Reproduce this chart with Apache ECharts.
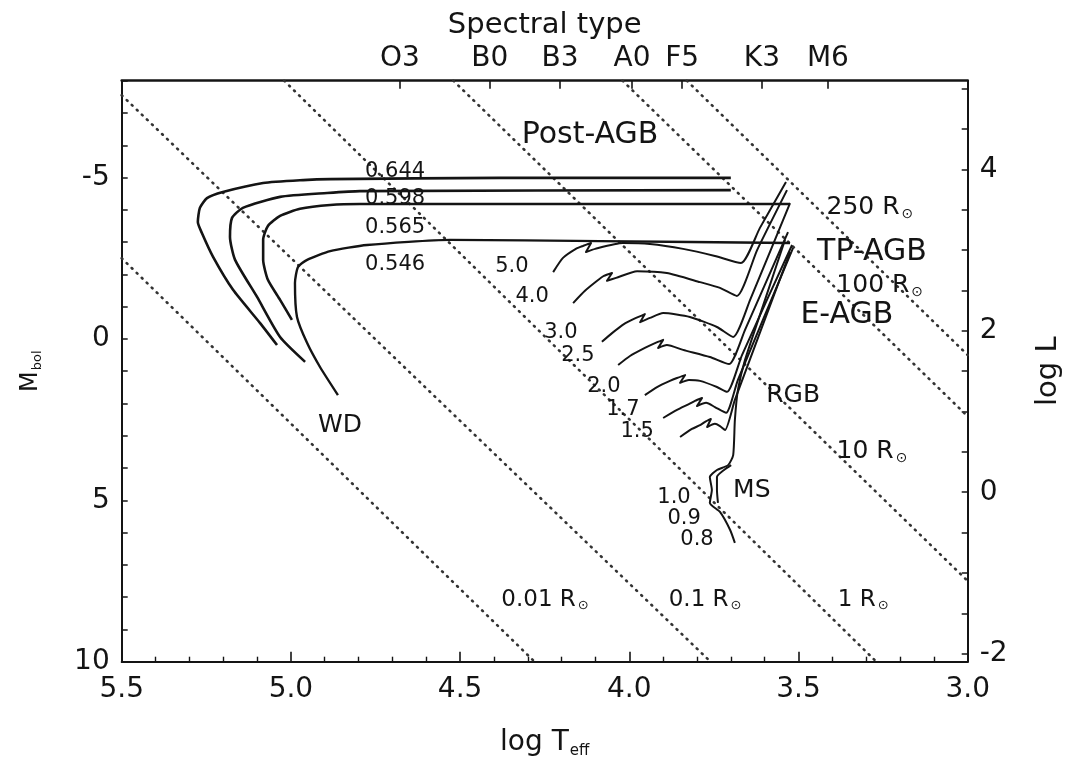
<!DOCTYPE html>
<html>
<head>
<meta charset="utf-8">
<script src="https://cdn.jsdelivr.net/npm/echarts@6/dist/echarts.min.js"></script>
<style>
  html, body { margin: 0; padding: 0; background: #ffffff; }
  #chart { width: 1073px; height: 760px; }
</style>
</head>
<body>
<div id="chart"></div>
<script>
// ---- Axis ticks -----------------------------------------------------------
const spectralTypes = ['O3', 'B0', 'B3', 'A0', 'F5', 'K3', 'M6'];
const spectralLogT = [4.678, 4.412, 4.205, 3.992, 3.844, 3.608, 3.413];
const mbolTickLabels = [-5, 0, 5, 10];
const mbolTicks = [-8, -7, -6, -5, -4, -3, -2, -1, 0, 1, 2, 3, 4, 5, 6, 7, 8, 9, 10];
const logLTickLabels = [-2, 0, 2, 4];
const logLTicks = [-2, -1.5, -1, -0.5, 0, 0.5, 1, 1.5, 2, 2.5, 3, 3.5, 4, 4.5, 5];

// ---- Lines of constant radius: [log Teff, Mbol] end points ------------------
const radius001 = [[5.50, -2.50], [4.28, 10.0]];
const radius01 = [[5.50, -7.55], [3.76, 10.0]];
const radius1 = [[5.02, -8.0], [3.27, 10.0]];
const radius10 = [[4.52, -8.0], [3.00, 7.5]];
const radius100 = [[4.02, -8.0], [3.00, 2.4]];
const radius250 = [[3.83, -8.0], [3.00, 0.5]];

// ---- Post-AGB tracks (remnant mass in Msun) -------------------------------
const track0644 = [[3.700,-4.99],[4.382,-4.99],[4.884,-4.95],[4.964,-4.92],[5.082,-4.83],[5.201,-4.55],[5.248,-4.36],[5.269,-4.06],[5.275,-3.62],[5.263,-3.28],[5.230,-2.54],[5.171,-1.52],[5.091,-0.49],[5.041,0.19]];
const track0598 = [[3.700,-4.61],[4.796,-4.58],[4.893,-4.52],[5.032,-4.40],[5.142,-4.06],[5.174,-3.75],[5.180,-3.16],[5.165,-2.45],[5.100,-1.30],[5.032,-0.06],[4.958,0.71]];
const track0565 = [[3.525,-4.18],[4.796,-4.18],[4.884,-4.15],[4.973,-4.03],[5.032,-3.81],[5.068,-3.50],[5.082,-3.07],[5.082,-2.45],[5.068,-1.83],[5.032,-1.21],[4.997,-0.59]];
const track0546 = [[3.525,-2.97],[4.087,-3.03],[4.530,-3.07],[4.775,-2.91],[4.884,-2.72],[4.952,-2.45],[4.979,-2.23],[4.988,-1.73],[4.982,-0.68],[4.952,0.13],[4.914,0.87],[4.861,1.74]];

// ---- Intermediate-mass tracks (initial mass in Msun) -----------------------
const track50 = [[4.225,-2.07],[4.196,-2.51],[4.158,-2.79],[4.137,-2.88],[4.113,-2.97],[4.128,-2.69],[4.101,-2.79],[4.019,-2.97],[3.939,-2.94],[3.841,-2.79],[3.747,-2.57],[3.670,-2.35],[3.614,-3.44],[3.537,-4.86]];
const track40 = [[4.166,-1.11],[4.131,-1.49],[4.095,-1.80],[4.075,-1.95],[4.051,-2.04],[4.066,-1.80],[4.039,-1.89],[3.977,-2.10],[3.889,-2.04],[3.791,-1.76],[3.732,-1.58],[3.682,-1.33],[3.622,-2.76],[3.534,-4.61]];
const track30 = [[4.081,0.09],[4.051,-0.18],[4.016,-0.46],[3.980,-0.65],[3.954,-0.77],[3.968,-0.52],[3.939,-0.65],[3.900,-0.80],[3.821,-0.68],[3.741,-0.37],[3.693,-0.06],[3.643,-1.21],[3.525,-4.21]];
const track25 = [[4.033,0.81],[3.998,0.53],[3.954,0.28],[3.924,0.13],[3.900,0.03],[3.915,0.28],[3.889,0.19],[3.841,0.34],[3.762,0.56],[3.705,0.78],[3.658,-0.28],[3.531,-3.31]];
const track20 = [[3.954,1.74],[3.918,1.49],[3.880,1.30],[3.859,1.21],[3.835,1.12],[3.850,1.36],[3.824,1.27],[3.791,1.30],[3.741,1.49],[3.711,1.64],[3.667,0.50],[3.519,-2.91]];
const track17 = [[3.900,2.45],[3.859,2.20],[3.824,2.02],[3.806,1.92],[3.785,1.83],[3.800,2.08],[3.773,1.98],[3.747,2.11],[3.714,2.29],[3.679,1.27],[3.516,-2.82]];
const track15 = [[3.850,3.04],[3.815,2.79],[3.791,2.67],[3.776,2.57],[3.759,2.48],[3.770,2.73],[3.747,2.63],[3.732,2.70],[3.717,2.82],[3.688,1.89],[3.525,-2.69]];

// ---- Low-mass tracks: main sequence, turn-off and red giant branch ---------
const track08 = [[3.688,6.32],[3.702,5.92],[3.732,5.36],[3.762,5.08],[3.756,4.68],[3.762,4.28],[3.741,4.06],[3.708,3.91],[3.693,3.60],[3.688,2.51],[3.679,1.58],[3.658,0.65],[3.599,-1.21],[3.540,-3.07]];
const track10 = [[3.738,5.08],[3.741,4.68],[3.741,4.28],[3.720,4.06],[3.699,3.91]];

// ---- Text annotations: [text, log Teff, Mbol, style] ----------------------
const notes = [
  ['Post-AGB', 4.116, -6.32, 'big'],
  ['0.644', 4.692, -5.20, 'mass'],
  ['0.598', 4.692, -4.34, 'mass'],
  ['0.565', 4.692, -3.44, 'mass'],
  ['0.546', 4.692, -2.29, 'mass'],
  ['5.0', 4.347, -2.23, 'mass'],
  ['4.0', 4.287, -1.30, 'mass'],
  ['3.0', 4.202, -0.21, 'mass'],
  ['2.5', 4.152, 0.50, 'mass'],
  ['2.0', 4.075, 1.46, 'mass'],
  ['1.7', 4.019, 2.20, 'mass'],
  ['1.5', 3.977, 2.88, 'mass'],
  ['1.0', 3.868, 4.90, 'mass'],
  ['0.9', 3.838, 5.58, 'mass'],
  ['0.8', 3.800, 6.23, 'mass'],
  ['MS', 3.638, 4.71, 'phase'],
  ['RGB', 3.516, 1.74, 'phase'],
  ['E-AGB', 3.357, -0.74, 'big'],
  ['TP-AGB', 3.283, -2.69, 'big'],
  ['WD', 4.855, 2.67, 'phase'],
  ['250 R{s|\u2299}', 3.289, -4.06, 'radius'],
  ['100 R{s|\u2299}', 3.260, -1.64, 'radius'],
  ['10 R{s|\u2299}', 3.283, 3.50, 'radius'],
  ['1 R{s|\u2299}', 3.309, 8.09, 'radiusSmall'],
  ['0.1 R{s|\u2299}', 3.776, 8.09, 'radiusSmall'],
  ['0.01 R{s|\u2299}', 4.249, 8.09, 'radiusSmall']
];

// ---- Styles ----------------------------------------------------------------
const FONT = 'DejaVu Sans';
const INK = '#141414';
const noteSizes = { big: 30, mass: 21, phase: 25, radius: 25, radiusSmall: 23 };
const M_SUN = 4.75;  // bolometric magnitude of the Sun (links Mbol and log L)
const M_TOP = -8, M_BOTTOM = 10;

const chart = echarts.init(document.getElementById('chart'), null, { renderer: 'canvas' });

const trackSeries = [
  [track0644, 2.6], [track0598, 2.6], [track0565, 2.6], [track0546, 2.4],
  [track50, 2], [track40, 2], [track30, 2], [track25, 2], [track20, 2],
  [track17, 2], [track15, 2], [track08, 2], [track10, 2]
].map(([data, w]) => ({
  type: 'line',
  data: data,
  showSymbol: false,
  symbol: 'none',
  smooth: 0.2,
  silent: true,
  z: 3,
  lineStyle: { color: INK, width: w, join: 'round' }
}));

const radiusSeries = [radius001, radius01, radius1, radius10, radius100, radius250].map(d => ({
  type: 'line',
  data: d,
  showSymbol: false,
  symbol: 'none',
  silent: true,
  z: 2,
  lineStyle: { color: '#333333', width: 2.6, type: [1, 6], cap: 'round' }
}));

const noteStyles = {};
Object.keys(noteSizes).forEach(k => {
  noteStyles[k] = {
    fontSize: noteSizes[k],
    fontFamily: FONT,
    color: INK,
    opacity: 1,
    textBorderWidth: 0,
    rich: { s: { fontSize: Math.round(noteSizes[k] * 0.55), fontFamily: FONT, color: INK, padding: [Math.round(noteSizes[k] * 0.5), 0, 0, 2] } }
  };
});

const noteSeries = {
  type: 'scatter',
  symbolSize: 0,
  silent: true,
  z: 5,
  itemStyle: { color: INK, opacity: 1 },
  data: notes.map(n => ({
    value: [n[1], n[2]],
    label: Object.assign({
      show: true, position: [0, 0], align: 'center', verticalAlign: 'middle', formatter: n[0]
    }, noteStyles[n[3]])
  }))
};

const tickFont = { fontSize: 28, fontFamily: FONT, color: INK };

chart.setOption({
  animation: false,
  backgroundColor: '#ffffff',
  grid: { left: 121.7, right: 105.3, top: 80.7, bottom: 98.3, containLabel: false, outerBoundsMode: 'none' },
  xAxis: [
    {
      type: 'value', position: 'bottom', min: 3.0, max: 5.5, interval: 0.5, inverse: true,
      axisLine: { show: true, onZero: false, lineStyle: { color: INK, width: 2 } },
      axisTick: { show: true, inside: true, length: 10, lineStyle: { color: INK, width: 1.6 } },
      minorTick: { show: true, splitNumber: 5, length: 5, lineStyle: { color: INK, width: 1.4 } },
      splitLine: { show: false },
      axisLabel: Object.assign({ margin: 14, formatter: v => v.toFixed(1) }, tickFont),
      name: '{a|log T}{b|eff}',
      nameLocation: 'middle', nameGap: 66,
      nameTextStyle: {
        rich: {
          a: { fontSize: 28, fontFamily: FONT, color: INK },
          b: { fontSize: 15, fontFamily: FONT, color: INK, padding: [16, 0, 0, 1] }
        }
      }
    },
    {
      type: 'value', position: 'top', min: 3.0, max: 5.5, inverse: true,
      axisLine: { show: true, onZero: false, lineStyle: { color: INK, width: 2.6 } },
      axisTick: { show: true, inside: true, length: 8, customValues: spectralLogT, lineStyle: { color: INK, width: 1.6 } },
      splitLine: { show: false },
      axisLabel: Object.assign({
        margin: 8,
        customValues: spectralLogT,
        formatter: v => {
          const i = spectralLogT.findIndex(t => Math.abs(t - v) < 1e-6);
          return i >= 0 ? spectralTypes[i] : '';
        }
      }, tickFont),
      name: 'Spectral type',
      nameLocation: 'middle', nameGap: 37,
      nameTextStyle: { fontSize: 29, fontFamily: FONT, color: INK }
    }
  ],
  yAxis: [
    {
      type: 'value', position: 'left', min: M_TOP, max: M_BOTTOM, inverse: true,
      axisLine: { show: true, onZero: false, lineStyle: { color: INK, width: 2 } },
      axisTick: { show: true, inside: true, length: 6, customValues: mbolTicks, lineStyle: { color: INK, width: 1.5 } },
      splitLine: { show: false },
      axisLabel: Object.assign({ margin: 12, customValues: mbolTickLabels }, tickFont),
      name: '{a|M}{b|bol}',
      nameLocation: 'middle', nameGap: 78, nameRotate: 90,
      nameTextStyle: {
        rich: {
          a: { fontSize: 24, fontFamily: FONT, color: INK },
          b: { fontSize: 13, fontFamily: FONT, color: INK, padding: [13, 0, 0, 1] }
        }
      }
    },
    {
      type: 'value', position: 'right',
      min: (M_SUN - M_BOTTOM) / 2.5, max: (M_SUN - M_TOP) / 2.5,
      axisLine: { show: true, onZero: false, lineStyle: { color: INK, width: 2 } },
      axisTick: { show: true, inside: true, length: 6, customValues: logLTicks, lineStyle: { color: INK, width: 1.5 } },
      splitLine: { show: false },
      axisLabel: Object.assign({ margin: 12, customValues: logLTickLabels }, tickFont),
      name: 'log L',
      nameLocation: 'middle', nameGap: 66, nameRotate: 90,
      nameTextStyle: { fontSize: 29, fontFamily: FONT, color: INK }
    }
  ],
  series: radiusSeries.concat(trackSeries, [noteSeries])
});
</script>
</body>
</html>
